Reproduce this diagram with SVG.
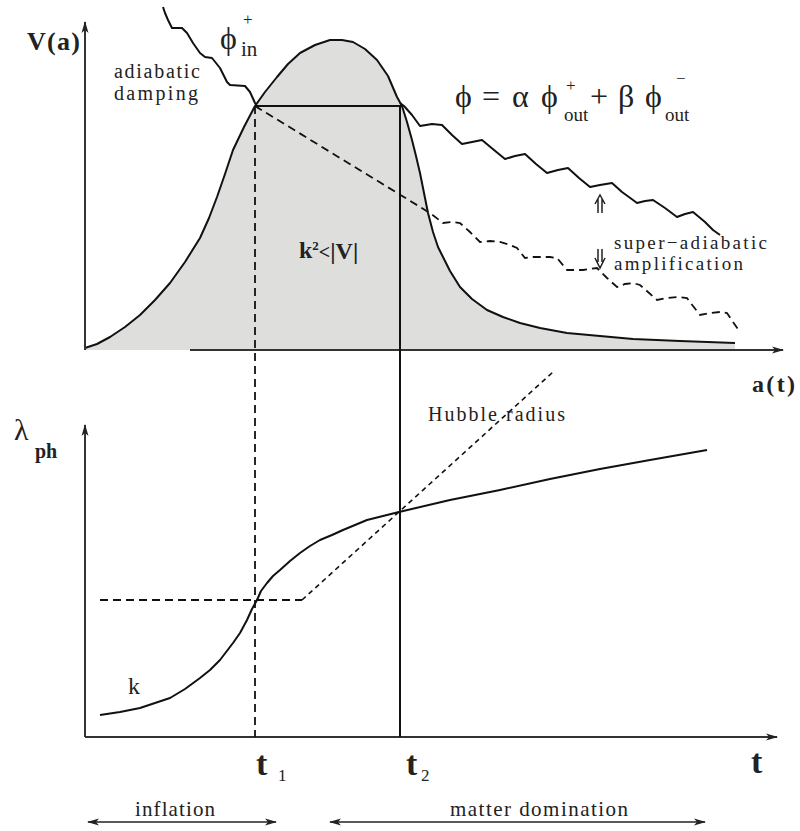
<svg xmlns="http://www.w3.org/2000/svg" width="800" height="831" viewBox="0 0 800 831">
<defs>
<marker id="ah" viewBox="0 0 12 8" refX="11" refY="4" markerWidth="12" markerHeight="8" markerUnits="userSpaceOnUse" orient="auto-start-reverse">
<path d="M0,0.5 L12,4 L0,7.5 L3,4 Z" fill="#222"/>
</marker>
</defs>
<style>
.ax{stroke:#333;stroke-width:2;fill:none}
.cv{stroke:#111;stroke-width:2;fill:none;stroke-linejoin:round}
.dsh{stroke:#111;stroke-width:1.8;fill:none;stroke-dasharray:8 5}
.dot{stroke:#111;stroke-width:1.6;fill:none;stroke-dasharray:5 4}
.sm{stroke:#222;stroke-width:1.5;fill:none}
text{font-family:"Liberation Serif","Times New Roman",serif;fill:#222}
.b{font-weight:bold}
</style>
<rect width="800" height="831" fill="#fff"/>

<g id="potential">
<path d="M85,348 L97,344 L110,337 L125,327 L140,315 L155,300 L170,283 L185,262 L200,238 L209,218 L217,197 L225,174 L233,150 L244,127 L255,106 L265,92 L277,77 L288,64 L300,53 L315,45 L330,40 L342,40 L353,42 L365,49 L377,60 L388,76 L397,97 L402,106 L407,122 L412,140 L416,156 L420,173 L424,193 L428,213 L433,232 L438,247 L443,257 L450,271 L460,287 L472,299 L487,310 L503,317 L520,323 L540,328 L567,333 L600,336 L633,339 L680,341 L735,343 L735,350 L85,350 Z" fill="#dedfdc" stroke="none"/>
<path class="cv" d="M85,348 L97,344 L110,337 L125,327 L140,315 L155,300 L170,283 L185,262 L200,238 L209,218 L217,197 L225,174 L233,150 L244,127 L255,106 L265,92 L277,77 L288,64 L300,53 L315,45 L330,40 L342,40 L353,42 L365,49 L377,60 L388,76 L397,97 L402,106 L407,122 L412,140 L416,156 L420,173 L424,193 L428,213 L433,232 L438,247 L443,257 L450,271 L460,287 L472,299 L487,310 L503,317 L520,323 L540,328 L567,333 L600,336 L633,339 L680,341 L735,343"/>
</g>

<g id="connectors">
<line class="ax" x1="85" y1="350" x2="85" y2="22" marker-end="url(#ah)"/>
<line class="ax" x1="190" y1="350" x2="783" y2="350" marker-end="url(#ah)"/>
<line class="ax" x1="85" y1="737" x2="85" y2="425" marker-end="url(#ah)"/>
<line class="ax" x1="85" y1="737" x2="777" y2="737" marker-end="url(#ah)"/>
<line class="cv" x1="255" y1="106" x2="402" y2="106" stroke-width="1.8"/>
<line class="dsh" x1="255" y1="106" x2="255" y2="737"/>
<line class="cv" x1="400" y1="106" x2="400" y2="737" stroke-width="1.6"/>
<path class="cv" d="M163,7 L165,13 L168,20 L172,28 L182,28 L187,33 L193,43 L200,53 L205,57 L212,58 L220,68 L227,82 L230,85 L245,86 L250,92 L255,103 L258,108"/>
<path class="cv" d="M400,103 L404,106 L412,115 L420,126 L432,124 L442,125 L452,135 L462,144 L472,142 L482,140 L494,150 L505,159 L515,156 L525,154 L536,164 L547,173 L558,170 L568,168 L579,178 L590,187 L600,185 L612,183 L622,192 L633,200 L637,203 L645,201 L653,200 L665,208 L677,217 L685,214 L693,212 L705,222 L713,230 L720,235"/>
<path class="dsh" d="M255,106 L430,213 L443,223 L452,222 L460,223 L470,232 L480,242 L490,241 L500,242 L510,245 L517,248 L525,258 L533,257 L540,257 L550,257 L557,258 L567,270 L575,270 L583,270 L597,268 L607,278 L617,287 L625,284 L633,283 L640,285 L648,292 L657,300 L667,298 L677,297 L687,298 L693,306 L700,315 L710,313 L720,312 L727,313 L733,322 L740,332" stroke-dasharray="7 5"/>
<path class="sm" d="M598,213 L598,199 M602,213 L602,199 M595,204 L600,195 L605,204"/>
<path class="sm" d="M598,249 L598,262 M602,249 L602,262 M595,258 L600,268 L605,258"/>
<path class="dsh" d="M100,600 L302,600"/>
<path class="dot" d="M302,600 L553,372"/>
<path class="cv" d="M100,715 L120,712 L140,708 L155,703 L170,698 L185,689 L200,678 L210,670 L220,660 L233,643 L240,633 L247,620 L252,609 L257,600 L261,591 L267,583 L273,576 L280,570 L290,561 L300,553 L310,546 L320,540 L332,535 L343,530 L355,525 L367,520 L383,516 L399,512 L450,500 L500,490 L550,479 L600,469 L650,460 L707,450"/>
<line x1="88" y1="822" x2="276" y2="822" stroke="#222" stroke-width="1.6" marker-start="url(#ah)" marker-end="url(#ah)"/>
<line x1="330" y1="822" x2="705" y2="822" stroke="#222" stroke-width="1.6" marker-start="url(#ah)" marker-end="url(#ah)"/>
</g>

<g id="labels">
<text class="b" x="27" y="50" font-size="26" textLength="53">V(a)</text>
<text x="220" y="49" font-size="32">ϕ</text>
<text x="243" y="25" font-size="17">+</text>
<text x="241" y="56" font-size="21">in</text>
<text x="114" y="78" font-size="20" textLength="86">adiabatic</text>
<text x="114" y="100" font-size="20" textLength="84">damping</text>

<text x="455" y="107" font-size="32">ϕ</text>
<text x="482" y="107" font-size="32">=</text>
<text x="512" y="107" font-size="32">α</text>
<text x="541" y="107" font-size="32">ϕ</text>
<text x="566" y="91" font-size="17">+</text>
<text x="564" y="121" font-size="19">out</text>
<text x="590" y="107" font-size="32">+</text>
<text x="618" y="107" font-size="32">β</text>
<text x="645" y="107" font-size="32">ϕ</text>
<text x="676" y="84" font-size="17">−</text>
<text x="665" y="121" font-size="19">out</text>

<text class="b" x="299" y="258" font-size="24">k<tspan font-size="13" dy="-8">2</tspan><tspan font-size="20" dy="9">&lt;</tspan><tspan font-size="24" dx="0">|V|</tspan></text>

<text x="614" y="249" font-size="19" textLength="153">super−adiabatic</text>
<text x="614" y="270" font-size="19" textLength="129">amplification</text>
<text class="b" x="752" y="392" font-size="24" textLength="43">a(t)</text>

<text x="14" y="440" font-size="30">λ</text>
<text class="b" x="35" y="458" font-size="20">ph</text>
<text x="428" y="421" font-size="20" textLength="137">Hubble radius</text>
<text x="128" y="694" font-size="24">k</text>

<text class="b" x="256" y="775" font-size="34">t</text>
<text x="278" y="781" font-size="17">1</text>
<text class="b" x="406" y="775" font-size="34">t</text>
<text x="421" y="781" font-size="17">2</text>
<text class="b" x="751" y="773" font-size="34">t</text>

<text x="135" y="816" font-size="21" textLength="80">inflation</text>
<text x="450" y="816" font-size="21" textLength="178">matter domination</text>
</g>
</svg>
